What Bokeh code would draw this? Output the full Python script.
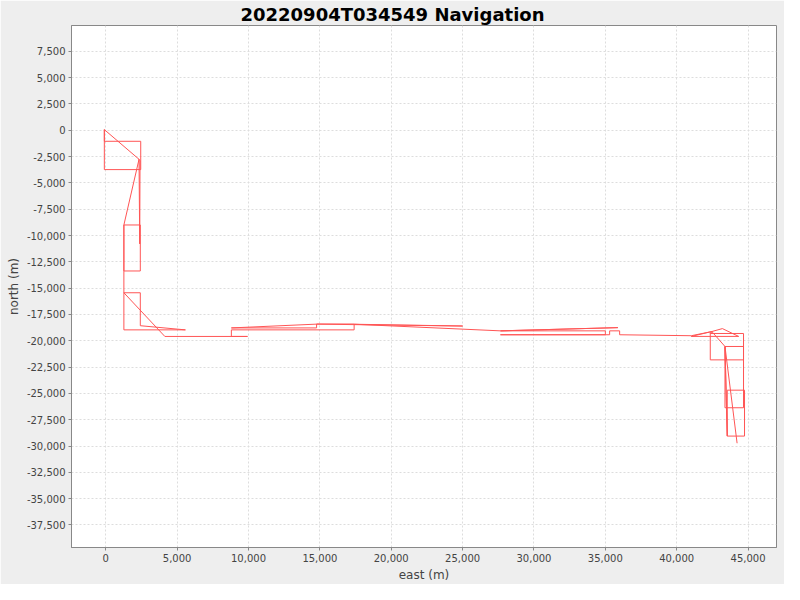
from bokeh.plotting import figure
from bokeh.models import SingleIntervalTicker, NumeralTickFormatter
from bokeh.embed import file_html
from bokeh.resources import INLINE

# Navigation track (metres)
east = [-100, -100, 2450, 2450, -100, -100, 2330, 2380, 2400, 2330,
        1270, 2420, 2420, 1270, 1270, 1270, 5580, 2420, 2420, 1270,
        4140, 9930, 8800, 8800, 17400, 17400, 14770, 14770, 8800, 14770,
        25000, 17400, 27650, 35880, 27650, 35000, 35000, 27650, 35300, 35300,
        36000, 36000, 41020, 42460, 43200, 44340, 41020, 42460, 42350, 44680,
        44680, 42350, 42350, 42460, 43380, 44680, 44680, 43380, 43380, 43540,
        43540, 44750, 44750, 43540, 43380, 44230]
north = [60, -3740, -3740, -1050, -1050, 60, -2760, -10800, -2900, -2760,
         -9000, -9000, -13370, -13370, -9000, -18965, -18965, -18570, -15440, -15440,
         -19590, -19590, -19590, -18965, -18965, -18408, -18408, -18780, -18780, -18420,
         -18600, -18430, -19058, -18752, -19058, -19058, -19430, -19430, -19430, -19058,
         -19058, -19430, -19522, -19123, -18844, -19587, -19587, -19123, -19309, -19309,
         -21815, -21815, -19309, -19123, -20543, -20543, -26364, -26364, -20543, -29056,
         -24693, -24693, -29056, -29056, -20543, -29734]

title_text = "20220904T034549 Navigation"
x_label = "east (m)"
y_label = "north (m)"

p = figure(width=784, height=584, output_backend="svg", toolbar_location=None,
           x_range=(-2400, 46990), y_range=(-39640, 9950),
           background_fill_color="white", border_fill_color="#EEEEEE",
           min_border_left=71, min_border_right=8, min_border_top=24, min_border_bottom=35)

p.title.text = title_text
p.title.align = "left"
p.title.offset = 169
p.title.text_font = "DejaVu Sans"
p.title.text_font_style = "bold"
p.title.text_font_size = "18px"
p.title.text_color = "black"
p.title.standoff = 2

p.outline_line_color = "#888888"
p.outline_line_width = 1

p.line(east, north, line_color="#FF5555", line_width=1)

p.xaxis.ticker = SingleIntervalTicker(interval=5000, num_minor_ticks=0)
p.yaxis.ticker = SingleIntervalTicker(interval=2500, num_minor_ticks=0)
for ax in (p.xaxis, p.yaxis):
    ax.formatter = NumeralTickFormatter(format="0,0")
    ax.major_label_text_font = "DejaVu Sans"
    ax.major_label_text_font_size = "10px"
    ax.major_label_text_color = "#444444"
    ax.axis_label_text_font = "DejaVu Sans"
    ax.axis_label_text_font_size = "12px"
    ax.axis_label_text_font_style = "normal"
    ax.axis_label_text_color = "#444444"
    ax.axis_line_color = "#888888"
    ax.major_tick_line_color = "#888888"
    ax.major_tick_out = 3
    ax.major_tick_in = 0
    ax.minor_tick_line_color = None
    ax.major_label_standoff = 3
    ax.axis_label_standoff = 3
p.xaxis.axis_label = x_label
p.yaxis.axis_label = y_label

for g in (p.xgrid, p.ygrid):
    g.grid_line_color = "#DDDDDD"
    g.grid_line_dash = "2 2"
    g.grid_line_width = 1

open("out.html", "w").write(file_html(p, INLINE))
